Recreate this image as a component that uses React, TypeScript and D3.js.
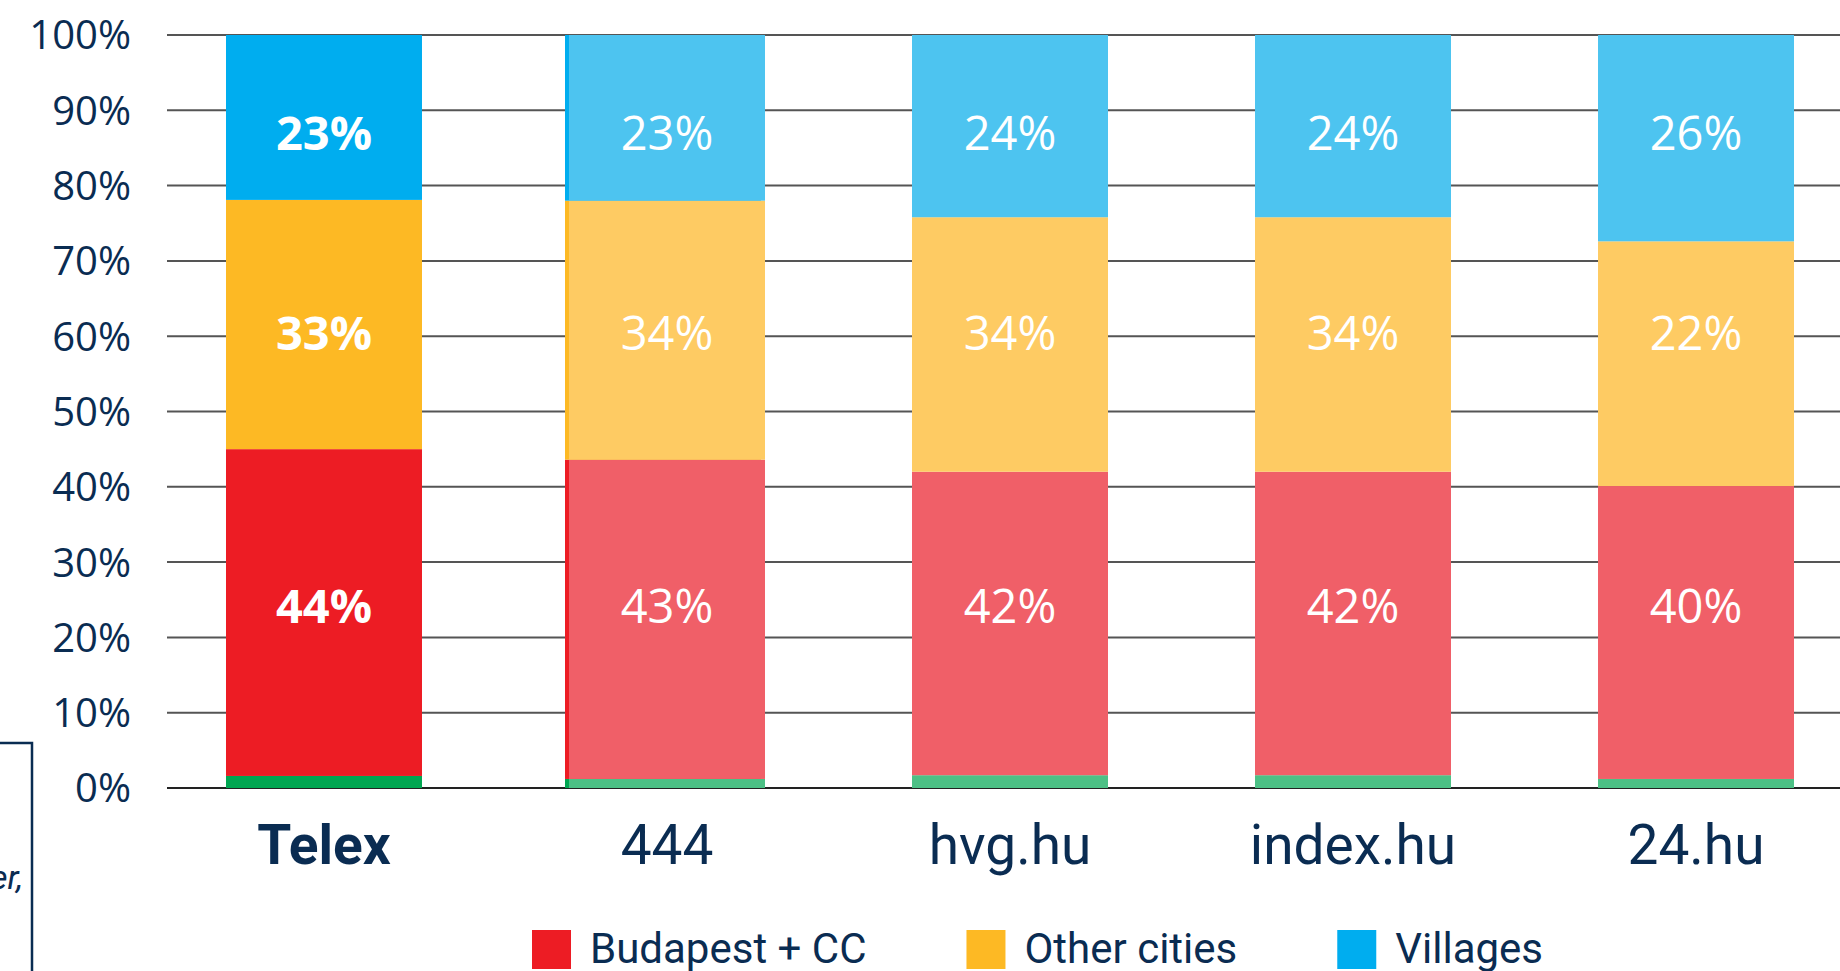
import React, { useEffect, useRef } from "react";
import * as d3 from "d3";

const width = 1840;
const height = 971;
const margin = { top: 35, left: 167, bottom: 183, right: 0 };
const iheight = height - margin.top - margin.bottom;

const categories = ["Telex", "444", "hvg.hu", "index.hu", "24.hu"];
const highlight = "Telex";

// shares in percent, bottom to top
const unknownShare = [1.6, 1.2, 1.7, 1.7, 1.2];
const budapestShare = [43.4, 42.4, 40.3, 40.3, 38.9];
const citiesShare = [33.1, 34.4, 33.8, 33.8, 32.5];
const villagesShare = [21.9, 22.0, 24.2, 24.2, 27.4];

// printed labels (as in the source)
const budapestLabels = ["44%", "43%", "42%", "42%", "40%"];
const citiesLabels = ["33%", "34%", "34%", "34%", "22%"];
const villagesLabels = ["23%", "23%", "24%", "24%", "26%"];

const yTicks = [0, 10, 20, 30, 40, 50, 60, 70, 80, 90, 100];
const legendNames = ["Budapest + CC", "Other cities", "Villages"];

const keys = ["unknown", "budapest", "cities", "villages"];
const strong = { unknown: "#00a651", budapest: "#ed1c24", cities: "#fdb924", villages: "#00adef" };
const soft = { unknown: "#4cc085", budapest: "#f05f68", cities: "#fecb63", villages: "#4dc4f0" };
// the source puts each row of labels at one fixed height on the axis
const labelLevel = { budapest: 24.1, cities: 60.4, villages: 87 };
const navy = "#0a2c52";
const font = "Roboto, 'Open Sans', sans-serif";
const numFont = "'Open Sans', Roboto, sans-serif";

export default function App() {
  const ref = useRef(null);

  useEffect(() => {
    const svg = d3.select(ref.current);
    svg.selectAll("*").remove();

    const rows = categories.map((c, i) => ({
      name: c,
      unknown: unknownShare[i],
      budapest: budapestShare[i],
      cities: citiesShare[i],
      villages: villagesShare[i],
    }));
    const labels = { budapest: budapestLabels, cities: citiesLabels, villages: villagesLabels };

    const stacked = d3.stack().keys(keys)(rows);

    const y = d3.scaleLinear().domain([0, 100]).range([margin.top + iheight, margin.top]);
    const x = d3
      .scaleBand()
      .domain(categories)
      .range([margin.left, 1853])
      .paddingInner(0.4286)
      .paddingOuter(0.172);

    // grid
    svg
      .append("g")
      .selectAll("line")
      .data(yTicks)
      .enter()
      .append("line")
      .attr("x1", margin.left)
      .attr("x2", width)
      .attr("y1", (d) => y(d))
      .attr("y2", (d) => y(d))
      .attr("stroke", (d) => (d === 0 ? "#222" : "#555"))
      .attr("stroke-width", 2);

    // y labels
    svg
      .append("g")
      .selectAll("text")
      .data(yTicks)
      .enter()
      .append("text")
      .attr("x", 131)
      .attr("y", (d) => y(d))
      .attr("dy", "0.36em")
      .attr("text-anchor", "end")
      .style("font-family", numFont)
      .style("font-size", "40px")
      .style("fill", navy)
      .text((d) => d + "%");

    // a thin saturated edge shows behind the 444 bar in the source
    const bw = x.bandwidth();
    stacked.forEach((layer) => {
      const key = layer.key;
      svg
        .append("g")
        .selectAll("rect")
        .data(layer.filter((d) => d.data.name === "444"))
        .enter()
        .append("rect")
        .attr("x", (d) => x(d.data.name) - 4)
        .attr("width", bw)
        .attr("y", (d) => y(d[1]))
        .attr("height", (d) => y(d[0]) - y(d[1]))
        .attr("fill", strong[key]);
    });

    stacked.forEach((layer) => {
      const key = layer.key;
      svg
        .append("g")
        .selectAll("rect")
        .data(layer)
        .enter()
        .append("rect")
        .attr("x", (d) => x(d.data.name))
        .attr("width", bw)
        .attr("y", (d) => y(d[1]))
        .attr("height", (d) => y(d[0]) - y(d[1]))
        .attr("fill", (d) => (d.data.name === highlight ? strong[key] : soft[key]));

      if (labels[key]) {
        svg
          .append("g")
          .selectAll("text")
          .data(layer)
          .enter()
          .append("text")
          .attr("x", (d) => x(d.data.name) + bw / 2)
          .attr("y", y(labelLevel[key]))
          .attr("dy", "0.36em")
          .attr("text-anchor", "middle")
          .style("font-family", numFont)
          .style("font-size", "47px")
          .style("font-weight", (d) => (d.data.name === highlight ? 700 : 400))
          .style("fill", "#fff")
          .text((d, i) => labels[key][i]);
      }
    });

    // category labels
    svg
      .append("g")
      .selectAll("text")
      .data(categories)
      .enter()
      .append("text")
      .attr("x", (d) => x(d) + bw / 2)
      .attr("y", 864)
      .attr("text-anchor", "middle")
      .style("font-family", font)
      .style("font-size", "55px")
      .style("font-weight", (d) => (d === highlight ? 700 : 400))
      .style("fill", navy)
      .text((d) => d);

    // legend
    const legendColors = [strong.budapest, strong.cities, strong.villages];
    let lx = 532;
    legendNames.forEach((name, i) => {
      svg
        .append("rect")
        .attr("x", lx)
        .attr("y", 930)
        .attr("width", 39)
        .attr("height", 39)
        .attr("fill", legendColors[i]);
      const t = svg
        .append("text")
        .attr("x", lx + 58)
        .attr("y", 963)
        .style("font-family", font)
        .style("font-size", "42px")
        .style("fill", navy)
        .text(name);
      const w = t.node().getComputedTextLength();
      lx = lx + 58 + w + 100;
    });

    // note box cut at the left edge
    svg
      .append("path")
      .attr("d", "M0,743H32V971")
      .attr("fill", "none")
      .attr("stroke", navy)
      .attr("stroke-width", 2.5);
    svg
      .append("text")
      .attr("x", 23)
      .attr("y", 889)
      .attr("text-anchor", "end")
      .style("font-family", font)
      .style("font-size", "34px")
      .style("font-style", "italic")
      .style("fill", navy)
      .text("November,");
  }, []);

  return (
    <div style={{ position: "fixed", left: 0, top: 0, width, height, background: "#fff" }}>
      <svg ref={ref} width={width} height={height} style={{ display: "block" }} />
    </div>
  );
}
